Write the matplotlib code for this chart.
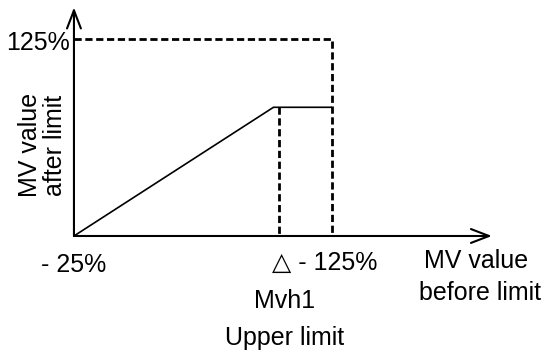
import matplotlib
matplotlib.use("Agg")
import matplotlib.pyplot as plt

plt.rcParams['font.family'] = ['Liberation Sans', 'DejaVu Sans']

# values in % (origin of both axes is -25%)
origin = -25
upper_x = 125      # - 125% on the input axis
upper_y = 125      # 125% on the output axis
mvh1 = 94          # Mvh1 position on the input axis
knee_x = 91        # where the ramp reaches the limit
plateau = 73       # output value held by the upper limit
x_arrow_end = 218
y_arrow_end = 149

x_tick_labels = ["- 25%", "\u25b3 - 125%"]
y_tick_label = "125%"

fig = plt.figure(figsize=(5.49, 3.53), dpi=100)
ax = fig.add_axes([0, 0, 1, 1])
ax.set_xlim(-68, 251.2)
ax.set_ylim(-114.1, 154.7)
ax.axis("off")

# axes with arrow heads
arrow = dict(arrowstyle="->,head_length=1.3,head_width=0.5", lw=1.5, color="black",
             shrinkA=0, shrinkB=0)
ax.annotate("", xy=(x_arrow_end, origin), xytext=(origin, origin), arrowprops=arrow)
ax.annotate("", xy=(origin, y_arrow_end), xytext=(origin, origin), arrowprops=arrow)

# characteristic
ax.plot([origin, knee_x, upper_x], [origin, plateau, plateau], color="black", lw=1.2,
        solid_capstyle="butt")

# dashed guides
dash = (0, (2.6, 1.3))
ax.plot([origin, upper_x, upper_x], [upper_y, upper_y, origin], color="black", lw=2,
        linestyle=dash)
ax.plot([mvh1, mvh1], [plateau, origin], color="black", lw=2, linestyle=dash)

fs = 18
ax.text(-27.3, 116.7, y_tick_label, ha="right", va="baseline", fontsize=fs)
ax.text(-25, -52.4, x_tick_labels[0], ha="center", va="baseline", fontsize=fs)
ax.text(121, -50.9, x_tick_labels[1], ha="center", va="baseline", fontsize=fs)
ax.text(208.7, -49.4, "MV value", ha="center", va="baseline", fontsize=fs)
ax.text(211, -73.7, "before limit", ha="center", va="baseline", fontsize=fs)
ax.text(97.7, -79.8, "Mvh1", ha="center", va="baseline", fontsize=fs)
ax.text(97.7, -108, "Upper limit", ha="center", va="baseline", fontsize=fs)
ax.text(-50.5, 44.3, "MV value", ha="center", va="center", rotation=90, fontsize=fs)
ax.text(-35.8, 44.3, "after limit", ha="center", va="center", rotation=90, fontsize=fs)

fig.savefig("out.png", dpi=100)
